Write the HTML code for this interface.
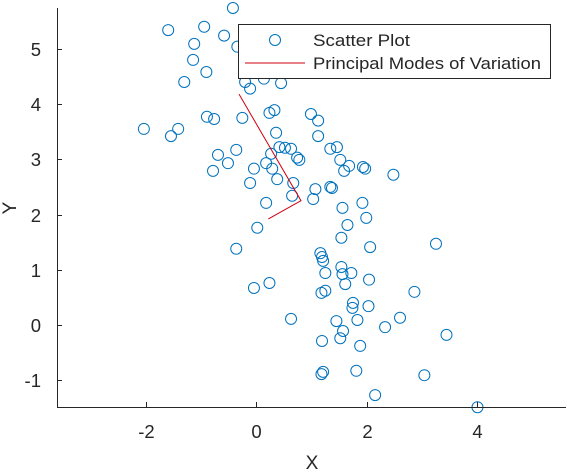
<!DOCTYPE html>
<html><head><meta charset="utf-8"><style>
html,body{margin:0;padding:0;background:#fff;}
svg text{font-family:"Liberation Sans",sans-serif;fill:#262626;}
</style></head><body>
<svg id="chart" width="567" height="471" viewBox="0 0 567 471" xmlns="http://www.w3.org/2000/svg">
<g id="plot"></g>
<g id="axes"></g>
<g>
<rect x="238.5" y="24.5" width="312" height="54" fill="#fff" stroke="#262626" stroke-width="1"/>
<circle cx="275" cy="40" r="5.5" fill="none" stroke="#0072BD" stroke-width="1"/>
<text x="313" y="46" font-size="16.5" textLength="97" lengthAdjust="spacingAndGlyphs">Scatter Plot</text>
<line x1="245" y1="63" x2="305" y2="63" stroke="#D00010" stroke-width="1"/>
<text x="313" y="69" font-size="16.5" textLength="228" lengthAdjust="spacingAndGlyphs">Principal Modes of Variation</text>
</g>
</svg>
<script>
const xs=[-0.42,-1.59,-0.94,-0.58,-1.12,-0.34,-1.14,-0.90,-1.30,-0.20,-0.11,0.14,0.45,-0.89,-0.76,-0.25,-2.03,-1.41,-1.54,0.24,0.33,0.36,0.99,1.12,1.12,1.34,1.46,-0.36,-0.69,-0.51,-0.78,-0.04,0.18,0.29,0.27,0.42,0.52,0.63,0.74,0.78,-0.11,0.38,0.67,0.65,0.18,1.07,1.03,1.34,1.37,1.52,1.68,1.59,1.93,1.97,2.48,1.56,1.92,1.99,1.65,1.54,2.06,0.02,-0.36,1.16,1.19,1.21,1.54,3.25,1.25,1.56,1.72,1.61,2.04,-0.04,0.24,1.18,1.25,1.75,1.74,2.03,2.86,0.63,1.45,1.57,1.52,1.83,2.33,2.60,3.44,1.19,1.88,1.18,1.21,1.81,3.04,2.15,4.00];
const ys=[5.74,5.34,5.40,5.24,5.09,5.04,4.80,4.58,4.40,4.40,4.28,4.46,4.38,3.77,3.73,3.75,3.55,3.55,3.42,3.84,3.89,3.48,3.82,3.70,3.42,3.19,3.22,3.17,3.08,2.93,2.79,2.83,2.93,2.83,3.10,3.22,3.21,3.19,3.03,2.99,2.57,2.64,2.57,2.34,2.21,2.46,2.28,2.50,2.48,2.99,2.88,2.79,2.86,2.83,2.72,2.12,2.21,1.94,1.81,1.58,1.41,1.76,1.38,1.30,1.23,1.16,1.05,1.47,0.94,0.92,0.94,0.74,0.82,0.67,0.76,0.58,0.62,0.40,0.31,0.34,0.60,0.11,0.07,-0.11,-0.24,0.09,-0.04,0.13,-0.18,-0.29,-0.38,-0.89,-0.85,-0.83,-0.91,-1.27,-1.49];
const modeX=[-0.31,0.81,0.22];
const modeY=[4.18,2.25,1.92];
const xTicks=[-2,0,2,4];
const yTicks=[-1,0,1,2,3,4,5];
const X0=-3.6,X1=5.6,Y0=-1.486,Y1=5.74;
const L=57,R=566,T=8,B=407;
const sx=v=>L+(v-X0)/(X1-X0)*(R-L);
const sy=v=>B-(v-Y0)/(Y1-Y0)*(B-T);
const NS="http://www.w3.org/2000/svg";
const plot=document.getElementById('plot'),axes=document.getElementById('axes');
function mk(tag,attrs,parent){const e=document.createElementNS(NS,tag);for(const k in attrs)e.setAttribute(k,attrs[k]);parent.appendChild(e);return e;}
xs.forEach((x,i)=>{
 const c=mk('circle',{cx:sx(x),cy:sy(ys[i]),r:5.5,fill:'none',stroke:'#0072BD','stroke-width':1},plot);
 
 
});
const pl=mk('polyline',{points:modeX.map((x,i)=>sx(x)+','+sy(modeY[i])).join(' '),fill:'none',stroke:'#D00010','stroke-width':1},plot);


const ax=mk('path',{d:`M${L+0.5},${T} V${B+0.5} H${R}`,fill:'none',stroke:'#262626','stroke-width':1},axes);


xTicks.forEach(t=>{
 const x=Math.round(sx(t))+0.5;
 const tk=mk('line',{x1:x,y1:B,x2:x,y2:B-5,stroke:'#262626'},axes);
 
 
 const lb=mk('text',{x:x,y:B+31,'text-anchor':'middle','font-size':18.5},axes);
 
 
 lb.textContent=t;
});
yTicks.forEach(t=>{
 const y=Math.round(sy(t))+0.5;
 const tk=mk('line',{x1:L,y1:y,x2:L+5,y2:y,stroke:'#262626'},axes);
 
 
 const lb=mk('text',{x:L-16,y:y+6.5,'text-anchor':'end','font-size':18.5},axes);
 
 
 lb.textContent=t;
});
const xl=mk('text',{x:312,y:469,'text-anchor':'middle','font-size':19},axes);


xl.textContent='X';
const yl=mk('text',{x:16,y:208,'text-anchor':'middle','font-size':19,transform:'rotate(-90 16 208)'},axes);


yl.textContent='Y';
</script>
</body></html>
